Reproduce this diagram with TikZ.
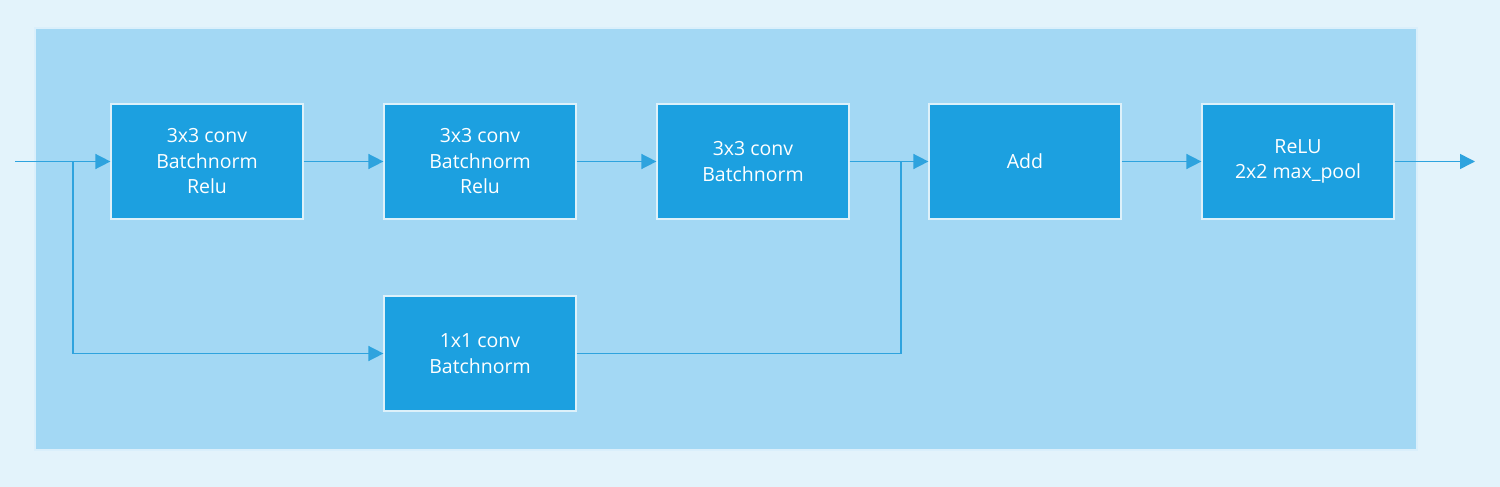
\documentclass[tikz,border=0pt]{standalone}
\usepackage{fontspec}
\setmainfont{Open Sans}
\usetikzlibrary{arrows.meta}
\definecolor{bgc}{HTML}{E3F3FB}
\definecolor{panelc}{HTML}{A3D8F4}
\definecolor{boxc}{HTML}{1CA0E0}
\definecolor{linec}{HTML}{2EA3DE}
\begin{document}
\begin{tikzpicture}[x=1pt,y=-1pt,
  blk/.style={draw=white!85!boxc,line width=1.2pt,fill=boxc,minimum width=192pt,minimum height=115pt,
    text=white,align=center,font=\fontsize{19.5}{25.5}\selectfont,inner sep=0pt},
  conn/.style={draw=linec,line width=1.5pt,-{Triangle[length=15pt,width=15pt]}},
  wire/.style={draw=linec,line width=1.5pt}]
\useasboundingbox (0,0) rectangle (1500,487);
\fill[bgc] (0,0) rectangle (1500,487);
\draw[fill=panelc,draw=white!60!panelc,line width=1.5pt] (35,28) rectangle (1417,450);
\node[blk] (b1) at (207,161.5) {3x3 conv\\Batchnorm\\Relu};
\node[blk] (b2) at (480,161.5) {3x3 conv\\Batchnorm\\Relu};
\node[blk] (b3) at (753,161.5) {3x3 conv\\Batchnorm};
\node[blk] (add) at (1025,161.5) {Add};
\node[blk] (relu) at (1298,161.5) {ReLU\\2x2 max\_pool};
\node[blk] (c1) at (480,353.5) {1x1 conv\\Batchnorm};
\coordinate (in) at (15,161.5);
\coordinate (out) at (1475,161.5);
\coordinate (split) at (73,161.5);
\coordinate (join) at (901,161.5);
\draw[conn] (in) -- (b1.west);
\draw[conn] (b1) -- (b2);
\draw[conn] (b2) -- (b3);
\draw[conn] (b3) -- (add);
\draw[conn] (add) -- (relu);
\draw[conn] (relu.east) -- (out);
\draw[conn] (split) |- (c1.west);
\draw[wire] (c1.east) -| (join);
\end{tikzpicture}
\end{document}
